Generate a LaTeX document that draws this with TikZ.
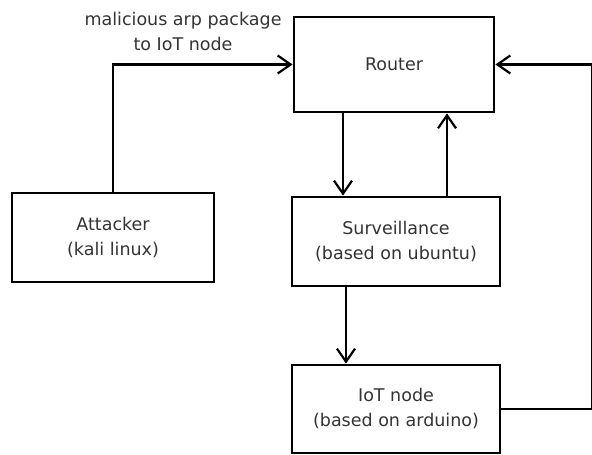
\documentclass[tikz,border=0pt]{standalone}
\usepackage{fontspec}
\setmainfont{DejaVu Sans}
\usepackage{tikz}
\usetikzlibrary{positioning,calc,arrows.meta}

\tikzset{
	box/.style={draw, line width=2.8pt, minimum width=#1, inner sep=0pt, align=center, font=\fontsize{17.5}{25}\selectfont, text=black!80},
	link/.style={draw, line width=2.3pt, -{Straight Barb[length=13pt, width=18pt, line width=2.2pt]}},
}

\begin{document}
\begin{tikzpicture}[x=1pt, y=1pt]
	\useasboundingbox (0, 0) rectangle (592, 455);
	\node [box=200pt, minimum height=95pt] (Router) at (394, 390.5) {Router};
	\node [box=202pt, minimum height=89pt] (Attacker) at (113, 217.5) {Attacker\\(kali linux)};
	\node [box=208pt, minimum height=89pt] (Surv) at (396, 213.5) {Surveillance\\(based on ubuntu)};
	\node [box=208pt, minimum height=88pt] (IoT) at (396, 46) {IoT node\\(based on arduino)};
	\node [draw=none, align=center, font=\fontsize{17.5}{25}\selectfont, text=black!80] (arpnote) at (183, 424) {malicious arp package\\to IoT node};
	\coordinate (edge) at (592.5, 0);
	\path [link] (Attacker.north) |- (Router.west);
	\path [link] ([xshift=-51pt]Router.south) -- ([xshift=-51pt]Router.south |- Surv.north);
	\path [link] ([xshift=51pt]Surv.north) -- ([xshift=51pt]Surv.north |- Router.south);
	\path [link] ([xshift=-50pt]Surv.south) -- ([xshift=-50pt]Surv.south |- IoT.north);
	\path [link] (IoT.east) -- (IoT.east -| edge) |- (Router.east);
\end{tikzpicture}
\end{document}
